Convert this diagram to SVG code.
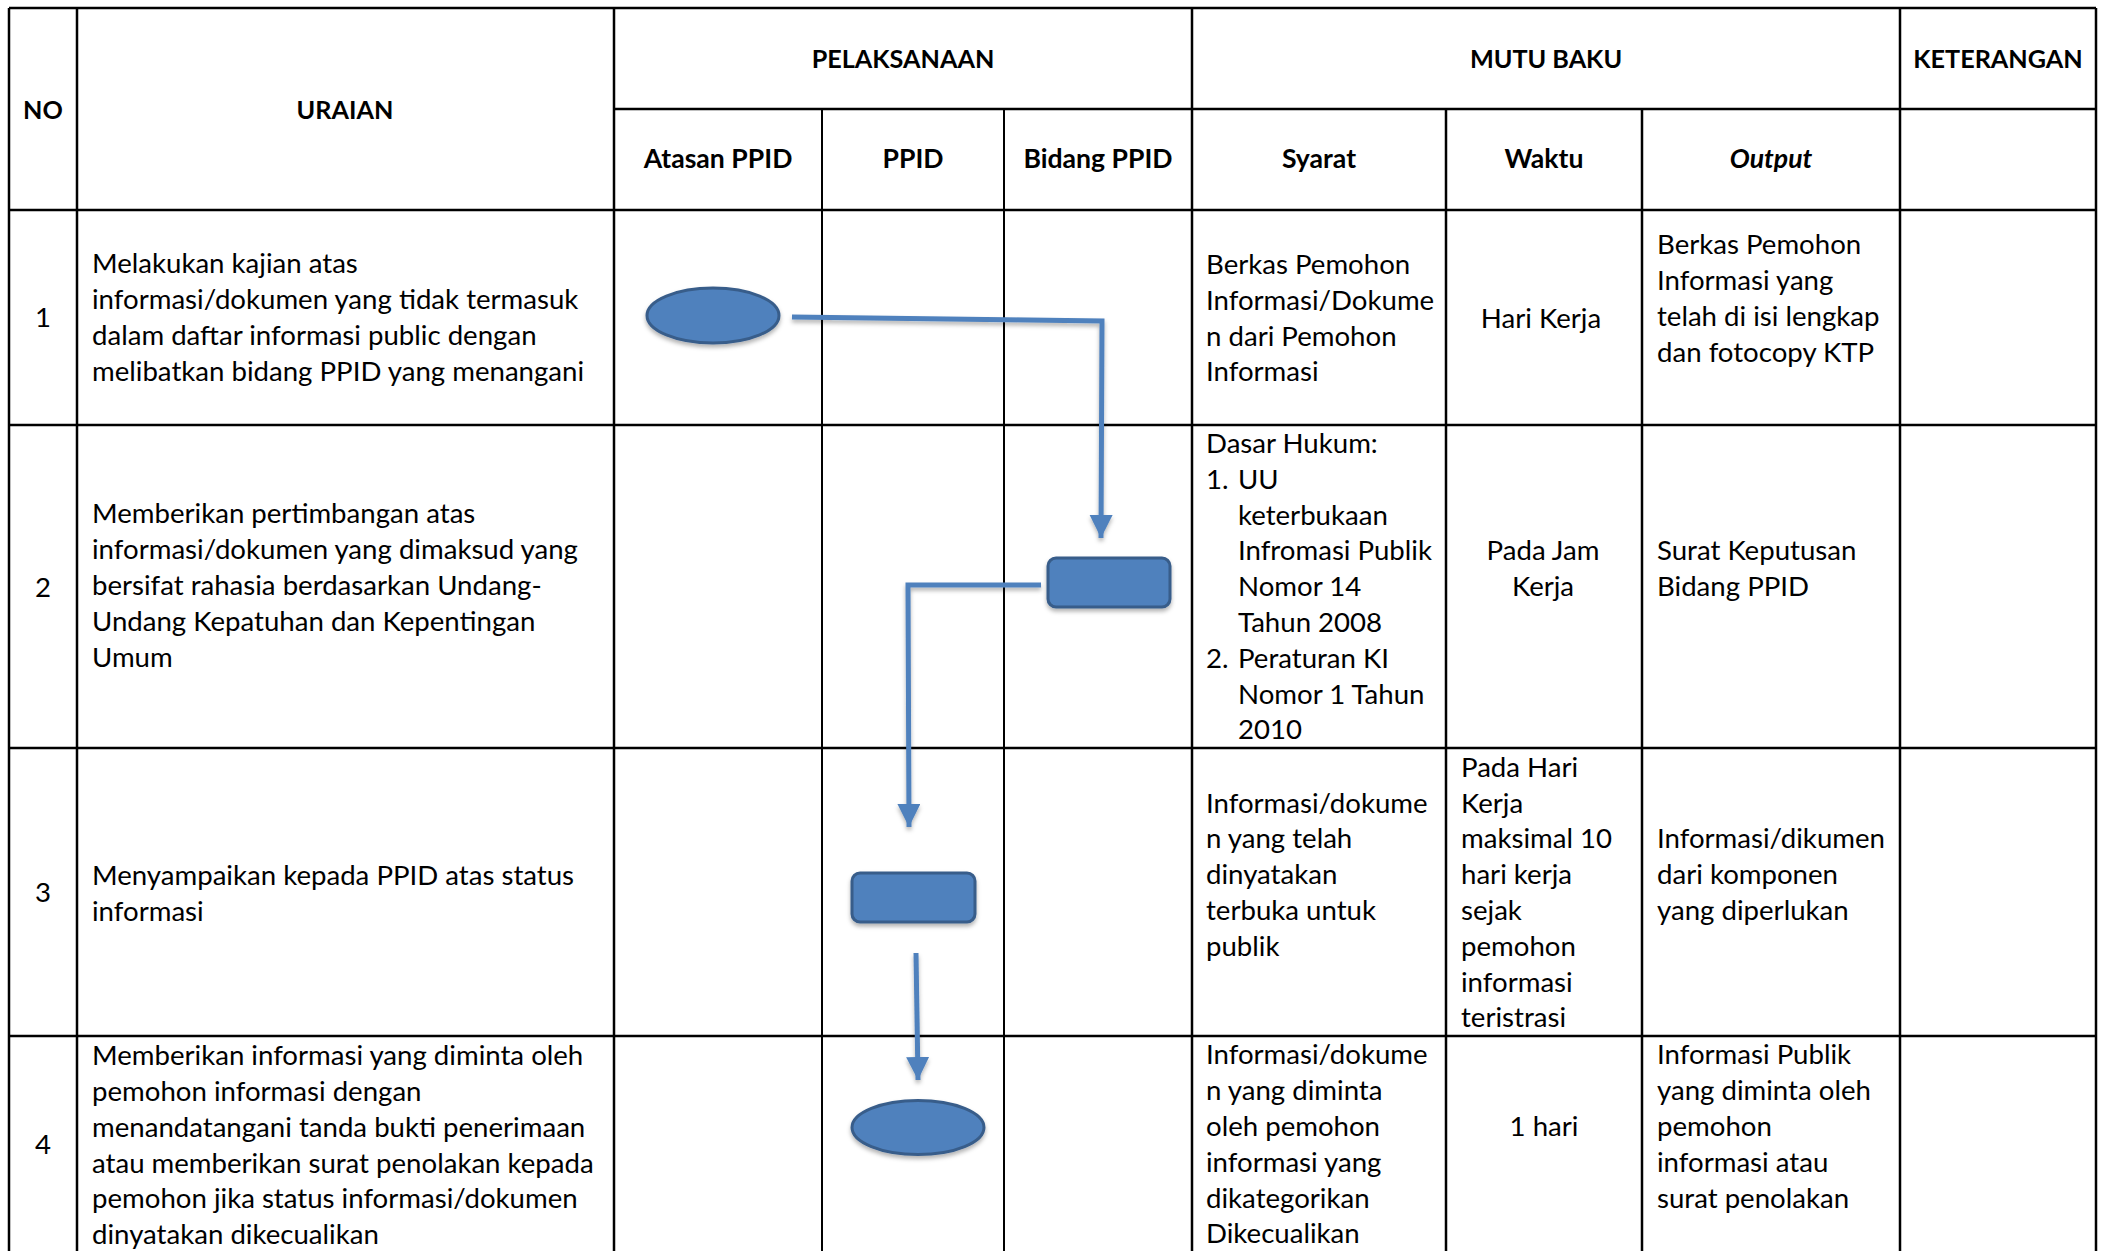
<svg xmlns="http://www.w3.org/2000/svg" width="2107" height="1251" viewBox="0 0 2107 1251">
<defs>
<style>
.t{font-family:Lato,"Liberation Sans",sans-serif;font-size:27.6px;fill:#000}
.h{font-weight:bold;text-anchor:middle;font-size:25.2px}
.h2{font-size:26.6px}
.c{text-anchor:middle}
.grid line{stroke:#000;stroke-width:2.5}
.grid line.thin{stroke-width:2}
.shape{fill:#4F81BD;stroke:#385D8A;stroke-width:3}
.conn{fill:none;stroke:#4F81BD;stroke-width:5}
</style>
<filter id="sh" x="-20%" y="-20%" width="140%" height="160%">
<feDropShadow dx="0" dy="3" stdDeviation="2" flood-color="#000" flood-opacity="0.3"/>
</filter>
<marker id="ah" markerWidth="5" markerHeight="5" refX="4.6" refY="2.3" orient="auto" markerUnits="strokeWidth">
<path d="M0,0 L4.6,2.3 L0,4.6 Z" fill="#4F81BD"/>
</marker>
</defs>
<rect width="2107" height="1251" fill="#fff"/>
<g class="grid">
<line x1="9" y1="8" x2="2096" y2="8"/>
<line x1="614" y1="109" x2="2096" y2="109"/>
<line x1="9" y1="210" x2="2096" y2="210"/>
<line x1="9" y1="425" x2="2096" y2="425"/>
<line x1="9" y1="748" x2="2096" y2="748"/>
<line x1="9" y1="1036" x2="2096" y2="1036"/>
<line x1="9" y1="8" x2="9" y2="1251"/>
<line x1="77" y1="8" x2="77" y2="1251"/>
<line x1="614" y1="8" x2="614" y2="1251"/>
<line class="thin" x1="822" y1="109" x2="822" y2="1251"/>
<line class="thin" x1="1004" y1="109" x2="1004" y2="1251"/>
<line x1="1192" y1="8" x2="1192" y2="1251"/>
<line x1="1446" y1="109" x2="1446" y2="1251"/>
<line x1="1642" y1="109" x2="1642" y2="1251"/>
<line x1="1900" y1="8" x2="1900" y2="1251"/>
<line x1="2096" y1="8" x2="2096" y2="1251"/>
</g>
<g id="header" class="t">
<text class="h" x="43" y="119">NO</text>
<text class="h" x="345" y="119">URAIAN</text>
<text class="h" x="903" y="68">PELAKSANAAN</text>
<text class="h" x="1546" y="68">MUTU BAKU</text>
<text class="h" x="1998" y="68">KETERANGAN</text>
<text class="h h2" x="718" y="168">Atasan PPID</text>
<text class="h h2" x="913" y="168">PPID</text>
<text class="h h2" x="1098" y="168">Bidang PPID</text>
<text class="h h2" x="1319" y="168">Syarat</text>
<text class="h h2" x="1544" y="168">Waktu</text>
<text class="h h2" x="1771" y="168" font-style="italic">Output</text>
</g>
<g id="row1" class="t">
<text class="c" x="43" y="327">1</text>
<text x="92" y="273">Melakukan kajian atas</text>
<text x="92" y="309">informasi/dokumen yang tidak termasuk</text>
<text x="92" y="345">dalam daftar informasi public dengan</text>
<text x="92" y="381">melibatkan bidang PPID yang menangani</text>
<text x="1206" y="274">Berkas Pemohon</text>
<text x="1206" y="310">Informasi/Dokume</text>
<text x="1206" y="346">n dari Pemohon</text>
<text x="1206" y="381">Informasi</text>
<text class="c" x="1541" y="328">Hari Kerja</text>
<text x="1657" y="254">Berkas Pemohon</text>
<text x="1657" y="290">Informasi yang</text>
<text x="1657" y="326">telah di isi lengkap</text>
<text x="1657" y="362">dan fotocopy KTP</text>
</g>
<g id="row2" class="t">
<text class="c" x="43" y="597">2</text>
<text x="92" y="523">Memberikan pertimbangan atas</text>
<text x="92" y="559">informasi/dokumen yang dimaksud yang</text>
<text x="92" y="595">bersifat rahasia berdasarkan Undang-</text>
<text x="92" y="631">Undang Kepatuhan dan Kepentingan</text>
<text x="92" y="667">Umum</text>
<text x="1206" y="453">Dasar Hukum:</text>
<text x="1206" y="489">1.</text>
<text x="1238" y="489">UU</text>
<text x="1238" y="525">keterbukaan</text>
<text x="1238" y="560">Infromasi Publik</text>
<text x="1238" y="596">Nomor 14</text>
<text x="1238" y="632">Tahun 2008</text>
<text x="1206" y="668">2.</text>
<text x="1238" y="668">Peraturan KI</text>
<text x="1238" y="704">Nomor 1 Tahun</text>
<text x="1238" y="739">2010</text>
<text class="c" x="1543" y="560">Pada Jam</text>
<text class="c" x="1543" y="596">Kerja</text>
<text x="1657" y="560">Surat Keputusan</text>
<text x="1657" y="596">Bidang PPID</text>
</g>
<g id="row3" class="t">
<text class="c" x="43" y="902">3</text>
<text x="92" y="885">Menyampaikan kepada PPID atas status</text>
<text x="92" y="921">informasi</text>
<text x="1206" y="813">Informasi/dokume</text>
<text x="1206" y="848">n yang telah</text>
<text x="1206" y="884">dinyatakan</text>
<text x="1206" y="920">terbuka untuk</text>
<text x="1206" y="956">publik</text>
<text x="1461" y="777">Pada Hari</text>
<text x="1461" y="813">Kerja</text>
<text x="1461" y="848">maksimal 10</text>
<text x="1461" y="884">hari kerja</text>
<text x="1461" y="920">sejak</text>
<text x="1461" y="956">pemohon</text>
<text x="1461" y="992">informasi</text>
<text x="1461" y="1027">teristrasi</text>
<text x="1657" y="848">Informasi/dikumen</text>
<text x="1657" y="884">dari komponen</text>
<text x="1657" y="920">yang diperlukan</text>
</g>
<g id="row4" class="t">
<text class="c" x="43" y="1154">4</text>
<text x="92" y="1065">Memberikan informasi yang diminta oleh</text>
<text x="92" y="1101">pemohon informasi dengan</text>
<text x="92" y="1137">menandatangani tanda bukti penerimaan</text>
<text x="92" y="1173">atau memberikan surat penolakan kepada</text>
<text x="92" y="1208">pemohon jika status informasi/dokumen</text>
<text x="92" y="1244">dinyatakan dikecualikan</text>
<text x="1206" y="1064">Informasi/dokume</text>
<text x="1206" y="1100">n yang diminta</text>
<text x="1206" y="1136">oleh pemohon</text>
<text x="1206" y="1172">informasi yang</text>
<text x="1206" y="1208">dikategorikan</text>
<text x="1206" y="1243">Dikecualikan</text>
<text class="c" x="1544" y="1136">1 hari</text>
<text x="1657" y="1064">Informasi Publik</text>
<text x="1657" y="1100">yang diminta oleh</text>
<text x="1657" y="1136">pemohon</text>
<text x="1657" y="1172">informasi atau</text>
<text x="1657" y="1208">surat penolakan</text>
</g>
<g id="connectors" filter="url(#sh)">
<path class="conn" d="M792,317 L1102,321 L1101,538" marker-end="url(#ah)"/>
<path class="conn" d="M1041,585 L908,585 L909,827" marker-end="url(#ah)"/>
<path class="conn" d="M916,953 L918,1080" marker-end="url(#ah)"/>
</g>
<g id="node-start" filter="url(#sh)"><ellipse class="shape" cx="713" cy="315.5" rx="66" ry="27.5"/></g>
<g id="node-bidang" filter="url(#sh)"><rect class="shape" x="1048" y="558" width="122" height="49" rx="8"/></g>
<g id="node-ppid" filter="url(#sh)"><rect class="shape" x="852" y="873" width="123" height="49" rx="8"/></g>
<g id="node-end" filter="url(#sh)"><ellipse class="shape" cx="918" cy="1127.5" rx="66" ry="27"/></g>
</svg>
